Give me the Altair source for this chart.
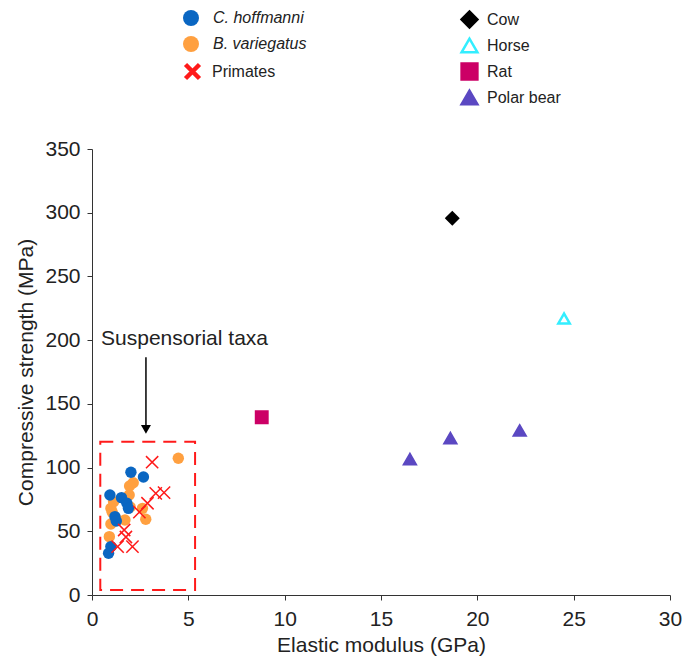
import altair as alt
import pandas as pd

FONT = "Liberation Sans"
BLUE = "#0a66c2"
ORANGE = "#ffa040"
RED = "#ff1a1a"

# C. hoffmanni
hoff_x = [2.02, 2.67, 0.93, 1.53, 1.81, 1.89, 1.19, 1.26, 0.98, 0.86]
hoff_y = [96.3, 92.6, 78.5, 76.4, 72.0, 68.0, 61.5, 58.0, 38.0, 32.7]

# B. variegatus
var_x = [4.48, 2.14, 1.95, 1.93, 1.12, 0.98, 2.62, 1.98, 2.79, 1.71, 1.32, 0.98, 1.05, 0.90]
var_y = [107.3, 88.1, 85.5, 78.5, 73.2, 68.0, 68.0, 69.0, 59.4, 58.9, 58.9, 55.7, 65.0, 45.8]

# Primates
prim_x = [3.12, 3.74, 3.31, 2.88, 2.46, 1.67, 1.76, 1.33, 2.10]
prim_y = [104.2, 80.3, 79.8, 72.0, 65.1, 51.0, 45.5, 37.9, 37.9]

# Other animals
animals = ["Cow", "Horse", "Rat", "Polar bear"]
other_names = ["Cow", "Horse", "Rat", "Polar bear", "Polar bear", "Polar bear"]
other_x = [18.7, 24.5, 8.81, 16.5, 18.6, 22.2]
other_y = [295.7, 217.0, 139.5, 106.5, 123.0, 129.0]

# Suspensorial taxa box and annotation
box_x = [0.43]
box_x2 = [5.35]
box_y = [4.0]
box_y2 = [120.3]
label_text = ["Suspensorial taxa"]
label_x = [0.47]
label_y = [196.0]
arrow_x = [2.8]
arrow_top = [186.6]
arrow_bottom = [133.0]
arrow_head_y = [130.0]

XPATH = "M-1,-1L1,1M1,-1L-1,1"

X = alt.X("x:Q", scale=alt.Scale(domain=[0, 30], nice=False),
          axis=alt.Axis(values=list(range(0, 31, 5)), title="Elastic modulus (GPa)",
                        labelFlush=False, labelPadding=8, titlePadding=5))
Y = alt.Y("y:Q", scale=alt.Scale(domain=[0, 350], nice=False),
          axis=alt.Axis(values=list(range(0, 351, 50)), title="Compressive strength (MPa)",
                        labelPadding=7, titlePadding=8))

box_df = pd.DataFrame({"x": box_x, "x2": box_x2, "y": box_y, "y2": box_y2})
box = alt.Chart(box_df).mark_rect(fill=None, stroke=RED, strokeWidth=2, strokeDash=[13, 8]).encode(
    x=X, x2="x2:Q", y=Y, y2="y2:Q")

arrow_df = pd.DataFrame({"x": arrow_x, "y": arrow_top, "y2": arrow_bottom})
arrow_rule = alt.Chart(arrow_df).mark_rule(color="black", strokeWidth=1.5).encode(x=X, y=Y, y2="y2:Q")

head_df = pd.DataFrame({"x": arrow_x, "y": arrow_head_y})
arrow_head = alt.Chart(head_df).mark_point(shape="triangle-down", filled=True, color="black",
                                           size=100, opacity=1).encode(x=X, y=Y)

text_df = pd.DataFrame({"x": label_x, "y": label_y, "t": label_text})
text = alt.Chart(text_df).mark_text(align="left", baseline="alphabetic", font=FONT, fontSize=21,
                                    color="#222").encode(x=X, y=Y, text="t:N")

a_df = pd.DataFrame({
    "x": var_x + hoff_x,
    "y": var_y + hoff_y,
    "sp": ["B. variegatus"] * len(var_x) + ["C. hoffmanni"] * len(hoff_x),
})
pts_a = alt.Chart(a_df).mark_circle(size=130, opacity=1).encode(
    x=X, y=Y,
    color=alt.Color("sp:N", scale=alt.Scale(domain=["C. hoffmanni", "B. variegatus"], range=[BLUE, ORANGE]),
                    legend=alt.Legend(title=None, orient="none", legendX=91, legendY=-139,
                                      labelFontStyle="italic", labelFont=FONT, labelFontSize=16,
                                      labelColor="#222", symbolSize=256, symbolType="circle",
                                      labelOffset=14, rowPadding=10, padding=0, symbolStrokeWidth=0)),
)

b_df = pd.DataFrame({"x": prim_x, "y": prim_y, "grp": ["Primates"] * len(prim_x)})
pts_b = alt.Chart(b_df).mark_point(shape=XPATH, filled=False, size=150, strokeWidth=1.5, opacity=1).encode(
    x=X, y=Y,
    color=alt.Color("grp:N", scale=alt.Scale(domain=["Primates"], range=[RED]),
                    legend=alt.Legend(title=None, orient="none", legendX=91, legendY=-87,
                                      labelFont=FONT, labelFontSize=16, labelColor="#222",
                                      symbolType=XPATH, symbolSize=196, symbolStrokeWidth=4.5,
                                      labelOffset=10, padding=0)),
)

LC = alt.Legend(title=None, orient="none", legendX=368, legendY=-139, labelFont=FONT, labelFontSize=16,
                labelColor="#222", symbolSize=250, symbolStrokeWidth=2.5, labelOffset=8,
                rowPadding=0, padding=0)
c_df = pd.DataFrame({"x": other_x, "y": other_y, "animal": other_names})
pts_c = alt.Chart(c_df).mark_point(filled=True, size=130, strokeWidth=2.5, opacity=1).encode(
    x=X, y=Y,
    shape=alt.Shape("animal:N", scale=alt.Scale(domain=animals,
                                                 range=["diamond", "triangle-up", "square", "triangle-up"]),
                    legend=LC),
    fill=alt.Fill("animal:N", scale=alt.Scale(domain=animals,
                                               range=["black", "white", "#cc0066", "#5b48c2"]), legend=LC),
    stroke=alt.Stroke("animal:N", scale=alt.Scale(domain=animals,
                                                   range=["black", "#33eeff", "#cc0066", "#5b48c2"]), legend=LC),
)

chart = alt.layer(box, arrow_rule, arrow_head, text, pts_a, pts_b, pts_c).resolve_scale(
    color="independent"
).properties(
    width=578, height=446,
    padding={"left": 92, "top": 149, "right": 27, "bottom": 61},
    autosize=alt.AutoSizeParams(type="none"),
).configure_view(stroke=None).configure_axis(
    grid=False, domainColor="#333", tickColor="#333", tickSize=5,
    labelFont=FONT, labelFontSize=21, labelColor="#222",
    titleFont=FONT, titleFontSize=21, titleFontWeight="normal", titleColor="#222",
)

chart.save("out.html", embed_options={"renderer": "svg", "actions": False})
